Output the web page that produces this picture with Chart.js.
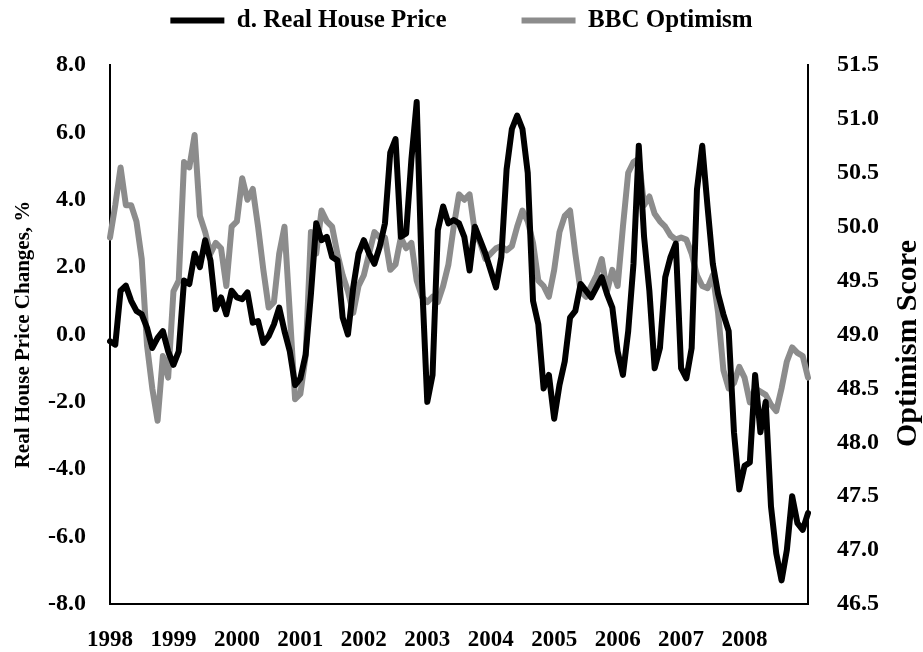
<!DOCTYPE html>
<html>
<head>
<meta charset="utf-8">
<script src="https://cdn.jsdelivr.net/npm/chart.js@4.4.1/dist/chart.umd.min.js"></script>
<style>
  body { margin: 0; background: #fff; }
  #wrap { width: 923px; height: 652px; }
</style>
</head>
<body>
<div id="wrap"><canvas id="chart" width="923" height="652"></canvas></div>
<script>
// year labels, one per January (monthly data Jan 1998 - Jan 2009)
const years = ['1998', '1999', '2000', '2001', '2002', '2003', '2004', '2005', '2006', '2007', '2008'];

// d. real house price, % (left axis)
const housePrice = [
  -0.2, -0.3, 1.3, 1.45, 1.0, 0.7, 0.6, 0.2, -0.4, -0.1, 0.1, -0.5,
  -0.9, -0.5, 1.6, 1.5, 2.4, 2.0, 2.8, 2.2, 0.75, 1.1, 0.6, 1.3,
  1.1, 1.05, 1.25, 0.35, 0.4, -0.25, -0.05, 0.3, 0.8, 0.1, -0.5, -1.5,
  -1.3, -0.6, 1.2, 3.3, 2.8, 2.9, 2.3, 2.2, 0.5, 0.0, 1.4, 2.4,
  2.8, 2.4, 2.1, 2.6, 3.3, 5.4, 5.8, 2.9, 3.0, 5.2, 6.9, 1.6,
  -2.0, -1.2, 3.1, 3.8, 3.3, 3.4, 3.3, 2.9, 1.9, 3.2, 2.8, 2.4,
  1.9, 1.4, 2.3, 4.9, 6.1, 6.5, 6.1, 4.8, 1.0, 0.3, -1.6, -1.2,
  -2.5, -1.5, -0.8, 0.5, 0.7, 1.5, 1.3, 1.1, 1.4, 1.7, 1.2, 0.8,
  -0.5, -1.2, 0.1, 2.1, 5.6, 2.9, 1.3, -1.0, -0.4, 1.7, 2.3, 2.7,
  -1.0, -1.3, -0.4, 4.3, 5.6, 3.8, 2.1, 1.2, 0.6, 0.1, -2.9, -4.6,
  -3.9, -3.8, -1.2, -2.9, -2.0, -5.1, -6.5, -7.3, -6.4, -4.8, -5.6, -5.8,
  -5.3
];

// BBC optimism score (right axis)
const optimism = [
  49.9, 50.2, 50.55, 50.2, 50.2, 50.05, 49.7, 48.9, 48.5, 48.2, 48.8, 48.6,
  49.4, 49.5, 50.6, 50.55, 50.85, 50.1, 49.95, 49.75, 49.85, 49.8, 49.45, 50.0,
  50.05, 50.45, 50.25, 50.35, 50.0, 49.6, 49.25, 49.3, 49.75, 50.0, 49.2, 48.4,
  48.45, 48.8, 49.95, 49.75, 50.15, 50.05, 50.0, 49.75, 49.55, 49.4, 49.2, 49.45,
  49.55, 49.75, 49.95, 49.9, 49.9, 49.6, 49.65, 49.9, 49.8, 49.85, 49.5, 49.35,
  49.3, 49.35, 49.3, 49.45, 49.65, 50.0, 50.3, 50.25, 50.3, 49.95, 49.85, 49.7,
  49.75, 49.8, 49.82, 49.78, 49.82, 50.0, 50.15, 50.05, 49.85, 49.5, 49.45, 49.35,
  49.6, 49.95, 50.1, 50.15, 49.75, 49.4, 49.35, 49.45, 49.55, 49.7, 49.4, 49.6,
  49.45, 50.0, 50.5, 50.6, 50.63, 50.2, 50.28, 50.12, 50.05, 50.0, 49.92, 49.88,
  49.9, 49.88, 49.75, 49.55, 49.45, 49.43, 49.55, 49.2, 48.67, 48.5, 48.55, 48.7,
  48.6, 48.37, 48.5, 48.47, 48.44, 48.35, 48.29, 48.5, 48.75, 48.88, 48.83, 48.8,
  48.6
];

let labels = [];
for (let i = 0; i < housePrice.length; i++) {
    labels.push(i % 12 === 0 && years[i / 12] ? years[i / 12] : '');
}

const serif = '"Liberation Serif", "Times New Roman", serif';
Chart.defaults.font.family = serif;
Chart.defaults.font.weight = 'bold';
Chart.defaults.font.size = 23;
Chart.defaults.color = '#000';

// right axis title reads bottom to top, like the left one
const rightTitle = {
    id: 'rightTitle',
    afterDraw(chart) {
        let ctx = chart.ctx;
        let area = chart.chartArea;
        ctx.save();
        ctx.translate(908, (area.top + area.bottom) / 2 + 9);
        ctx.rotate(-Math.PI / 2);
        ctx.textAlign = 'center';
        ctx.textBaseline = 'middle';
        ctx.fillStyle = '#000';
        ctx.font = 'bold 30px ' + serif;
        ctx.fillText('Optimism Score', 0, 0);
        ctx.restore();
    }
};

// extra room under the legend
const legendSpace = {
    id: 'legendSpace',
    beforeInit(chart) {
        let fit = chart.legend.fit;
        chart.legend.fit = function () {
            fit.call(this);
            this.height += 22;
        };
    }
};

let ctx = document.getElementById('chart').getContext('2d');
let chart = new Chart(ctx, {
    type: 'line',
    data: {
        labels: labels,
        datasets: [{
            label: 'd. Real House Price',
            data: housePrice,
            yAxisID: 'y',
            borderColor: '#000000',
            backgroundColor: '#000000',
            borderWidth: 6,
            pointRadius: 0,
            tension: 0,
            borderJoinStyle: 'round',
            borderCapStyle: 'round'
        }, {
            label: 'BBC Optimism',
            data: optimism,
            yAxisID: 'y2',
            borderColor: '#8c8c8c',
            backgroundColor: '#8c8c8c',
            borderWidth: 6,
            pointRadius: 0,
            tension: 0,
            borderJoinStyle: 'round',
            borderCapStyle: 'round'
        }]
    },
    options: {
        responsive: false,
        animation: false,
        devicePixelRatio: 1,
        layout: { padding: { top: -67, left: 0, right: 0, bottom: 0 } },
        plugins: {
            tooltip: { enabled: false },
            legend: {
                position: 'top',
                labels: {
                    boxWidth: 54,
                    boxHeight: 6,
                    padding: 75,
                    font: { size: 25, weight: 'bold' },
                    generateLabels(chart) {
                        let items = Chart.defaults.plugins.legend.labels.generateLabels(chart);
                        items.forEach(function (item) {
                            item.lineWidth = 0;
                            item.fillStyle = item.strokeStyle;
                        });
                        return items;
                    }
                }
            }
        },
        scales: {
            x: {
                offset: false,
                grid: { display: false },
                border: { display: true, color: '#000', width: 2 },
                ticks: {
                    autoSkip: false,
                    maxRotation: 0,
                    minRotation: 0,
                    padding: 14
                },
                afterFit(scale) { scale.height = 48; }
            },
            y: {
                position: 'left',
                min: -8,
                max: 8,
                grid: { display: false },
                border: { display: true, color: '#000', width: 2 },
                ticks: {
                    stepSize: 2,
                    padding: 16,
                    font: { size: 24 },
                    callback: function (v) { return v.toFixed(1); }
                },
                title: {
                    display: true,
                    text: 'Real House Price Changes, %',
                    font: { size: 21 },
                    padding: { top: 11, bottom: 0 }
                },
                afterFit(scale) { scale.width = 110; }
            },
            y2: {
                position: 'right',
                min: 46.5,
                max: 51.5,
                grid: { display: false },
                border: { display: true, color: '#000', width: 2 },
                ticks: {
                    stepSize: 0.5,
                    padding: 21,
                    font: { size: 24 },
                    callback: function (v) { return v.toFixed(1); }
                },
                afterFit(scale) { scale.width = 115; }
            }
        }
    },
    plugins: [rightTitle, legendSpace]
});
</script>
</body>
</html>
